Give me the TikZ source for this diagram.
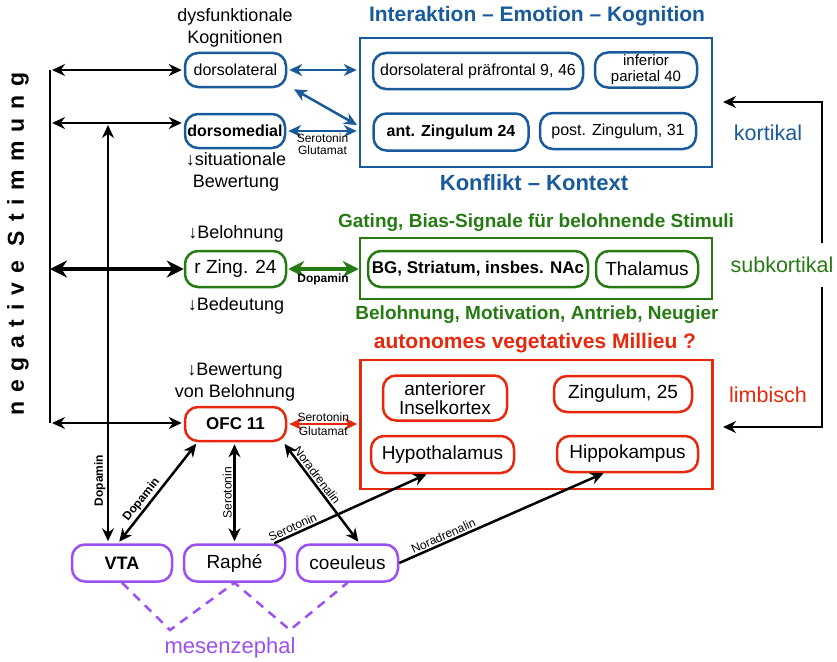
\documentclass[tikz,border=0pt]{standalone}
\usepackage{fontspec}
\setmainfont{Liberation Sans}
\usetikzlibrary{arrows.meta}
\definecolor{kblau}{RGB}{24,90,155}
\definecolor{sgruen}{RGB}{38,122,18}
\definecolor{lrot}{RGB}{232,40,12}
\definecolor{mlila}{RGB}{155,80,245}
\begin{document}
\begin{tikzpicture}[
  x=1pt, y=-1pt,
  >={Stealth[length=13pt,width=12pt]},
  every node/.style={font=\fontsize{16}{18}\selectfont},
  cnode/.style={draw=kblau, line width=2.5pt, rounded corners=13pt, minimum height=34pt, inner sep=2pt, align=center},
  snode/.style={cnode, draw=sgruen, minimum height=36pt},
  lnode/.style={cnode, draw=lrot, minimum height=36pt, font=\fontsize{19}{20}\selectfont},
  mnode/.style={cnode, draw=mlila, minimum height=37pt, font=\fontsize{19}{21}\selectfont},
  region/.style={line width=2.5pt, inner sep=0pt, minimum width=352pt},
  note/.style={font=\fontsize{18}{22}\selectfont, align=center},
  headline/.style={font=\fontsize{21}{22}\selectfont\bfseries},
  side/.style={font=\fontsize{21.5}{24}\selectfont},
  lbl/.style={font=\fontsize{12}{12}\selectfont, inner sep=1.5pt},
  conn/.style={line width=2.5pt, <->, shorten <=2pt, shorten >=2pt},
  dick/.style={line width=4.5pt, {Stealth[length=17pt,width=17pt]}-{Stealth[length=17pt,width=17pt]}}
]
  \useasboundingbox (0,0) rectangle (837,661);

  % negative Stimmung, links senkrecht
  \node[rotate=90, font=\fontsize{23}{23}\selectfont\bfseries\addfontfeatures{LetterSpace=38}] (neg) at (18,244) {negative Stimmung};

  % kortikal
  \node[note] (dysf) at (235,28) {dysfunktionale\\Kognitionen};
  \node[cnode, minimum width=101pt] (dlat) at (235.5,70) {dorsolateral};
  \node[cnode, minimum width=100pt, font=\fontsize{16}{18}\selectfont\bfseries] (dmed) at (235,131) {dorsomedial};
  \node[note] (situ) at (236,172) {↓situationale\\Bewertung};

  \node[headline, text=kblau] (kopf1) at (537,16) {Interaktion – Emotion – Kognition};
  \node[region, draw=kblau, minimum height=129pt] (kbox) at (536,102.5) {};
  \node[cnode, minimum width=210pt, minimum height=36pt] (dlpf) at (478,71) {dorsolateral präfrontal 9, 46};
  \node[cnode, minimum width=102pt, minimum height=35pt, font=\fontsize{15}{16}\selectfont] (infp) at (646,70) {inferior\\parietal 40};
  \node[cnode, minimum width=155pt, minimum height=37pt, font=\fontsize{16}{18}\selectfont\bfseries] (antz) at (451,132) {ant. Zingulum 24};
  \node[cnode, minimum width=156pt, minimum height=36pt] (postz) at (618,131) {post. Zingulum, 31};
  \node[headline, text=kblau, font=\fontsize{22}{22}\selectfont\bfseries] (fuss1) at (534,183) {Konflikt – Kontext};

  % subkortikal
  \node[note] (belo) at (236,234) {↓Belohnung};
  \node[snode, minimum width=101pt, font=\fontsize{19}{20}\selectfont] (rzing) at (235.5,269) {r Zing. 24};
  \node[note] (bedeu) at (236,306) {↓Bedeutung};

  \node[headline, text=sgruen, font=\fontsize{19}{20}\selectfont\bfseries] (kopf2) at (536,223) {Gating, Bias-Signale für belohnende Stimuli};
  \node[region, draw=sgruen, minimum height=61pt] (sbox) at (536,268.5) {};
  \node[snode, minimum width=220pt, font=\fontsize{17}{18}\selectfont\bfseries] (bg) at (478,269) {BG, Striatum, insbes. NAc};
  \node[snode, minimum width=102pt, font=\fontsize{19}{20}\selectfont] (thal) at (647,269) {Thalamus};
  \node[headline, text=sgruen, font=\fontsize{19}{20}\selectfont\bfseries] (fuss2) at (537,315) {Belohnung, Motivation, Antrieb, Neugier};

  % limbisch
  \node[note] (bewe) at (235,382.5) {↓Bewertung\\von Belohnung};
  \node[lnode, minimum width=101pt, minimum height=34pt, font=\fontsize{17}{18}\selectfont\bfseries] (ofc) at (235.5,424) {OFC 11};

  \node[headline, text=lrot] (kopf3) at (535,343) {autonomes vegetatives Millieu ?};
  \node[region, draw=lrot, minimum height=129pt] (lbox) at (536.5,424.5) {};
  \node[lnode, minimum width=124pt, minimum height=45pt, font=\fontsize{19}{19}\selectfont] (ains) at (445,398) {anteriorer\\Inselkortex};
  \node[lnode, minimum width=138pt] (zing) at (623,394) {Zingulum, 25};
  \node[lnode, minimum width=143pt, minimum height=37pt] (hypo) at (442.5,454.5) {Hypothalamus};
  \node[lnode, minimum width=141pt] (hipp) at (627.5,454) {Hippokampus};

  % mesenzephal
  \node[mnode, minimum width=100pt, font=\fontsize{18}{21}\selectfont\bfseries] (vta) at (122,563) {VTA};
  \node[mnode, minimum width=101pt] (raphe) at (234.5,563) {Raphé};
  \node[mnode, minimum width=101pt] (coeul) at (347.5,563) {coeuleus};
  \node[text=mlila, font=\fontsize{22}{22}\selectfont] (mesen) at (230,648) {mesenzephal};
  \coordinate (m1) at (170,630);
  \coordinate (m2) at (290,630);
  \draw[mlila, line width=2.5pt, dash pattern=on 9pt off 7pt] (vta.south) -- (m1) -- (raphe.south) -- (m2) -- (coeul.south);

  % rechte Seite
  \node[side, text=kblau] (kort) at (768,133) {kortikal};
  \node[side, text=sgruen] (subk) at (782,265) {subkortikal};
  \node[side, text=lrot] (limb) at (768,395) {limbisch};
  \coordinate (r1) at (822,243);
  \coordinate (r2) at (822,287);
  \coordinate (rk) at (723,102);
  \coordinate (rl) at (723,427);
  \draw[line width=2.5pt, ->] (r1) |- (rk);
  \draw[line width=2.5pt, ->] (r2) |- (rl);

  % linke Leiste
  \coordinate (bar1) at (50,70);
  \coordinate (bar2) at (50,123);
  \coordinate (bar3) at (50,269);
  \coordinate (bar4) at (50,423);
  \draw[line width=2.5pt] (bar1) -- (bar4);
  \draw[conn] (bar1) -- (dlat.west);
  \draw[conn] (bar2) -- (bar2 -| dmed.west);
  \draw[dick] (bar3) -- (rzing.west);
  \draw[conn] (bar4) -- (bar4 -| ofc.west);

  % Verbindungen kortikal
  \draw[conn, kblau] (dlat.east) -- (dlat.east -| kbox.west);
  \draw[conn, kblau] ([xshift=5pt]dlat.south east) -- ([yshift=5pt]dmed.east -| kbox.west);
  \draw[conn, kblau] (dmed.east) -- (dmed.east -| kbox.west)
    node[midway, below, lbl, align=center, text=black] {Serotonin\\Glutamat};

  % Verbindungen subkortikal, limbisch
  \draw[line width=4.5pt, sgruen, {Stealth[length=16pt,width=16pt]}-{Stealth[length=16pt,width=16pt]}, shorten <=1pt] (rzing.east) -- (rzing.east -| sbox.west)
    node[midway, below=1pt, lbl, font=\fontsize{12}{12}\selectfont\bfseries, text=black] {Dopamin};
  \draw[conn, lrot] (ofc.east) -- (ofc.east -| lbox.west)
    node[midway, above, lbl, text=black] {Serotonin}
    node[midway, below, lbl, text=black] {Glutamat};

  % Transmitter aus dem Mesenzephalon
  \coordinate (vtop) at (108,125);
  \draw[conn, shorten >=0pt] (vtop |- vta.north) -- (vtop)
    node[pos=0.15, sloped, above, lbl, font=\fontsize{12}{12}\selectfont\bfseries] {Dopamin};
  \draw[conn] ([xshift=-4pt]vta.north) -- ([xshift=-38pt]ofc.south)
    node[pos=0.38, sloped, above, lbl, font=\fontsize{12}{12}\selectfont\bfseries] {Dopamin};
  \draw[conn] (raphe.north) -- (raphe.north |- ofc.south)
    node[midway, sloped, above, lbl] {Serotonin};
  \draw[conn] ([xshift=-4pt]ofc.south east) -- ([xshift=12pt]coeul.north)
    node[pos=0.37, sloped, above, lbl] {Noradrenalin};
  \draw[line width=2.5pt, ->] ([xshift=-12pt]raphe.north east) -- ([xshift=-16pt]hypo.south)
    node[pos=0.14, sloped, above, lbl] {Serotonin};
  \draw[line width=2.5pt, ->] (coeul.east) -- ([xshift=-24pt]hipp.south)
    node[pos=0.23, sloped, above, lbl] {Noradrenalin};

\end{tikzpicture}
\end{document}
